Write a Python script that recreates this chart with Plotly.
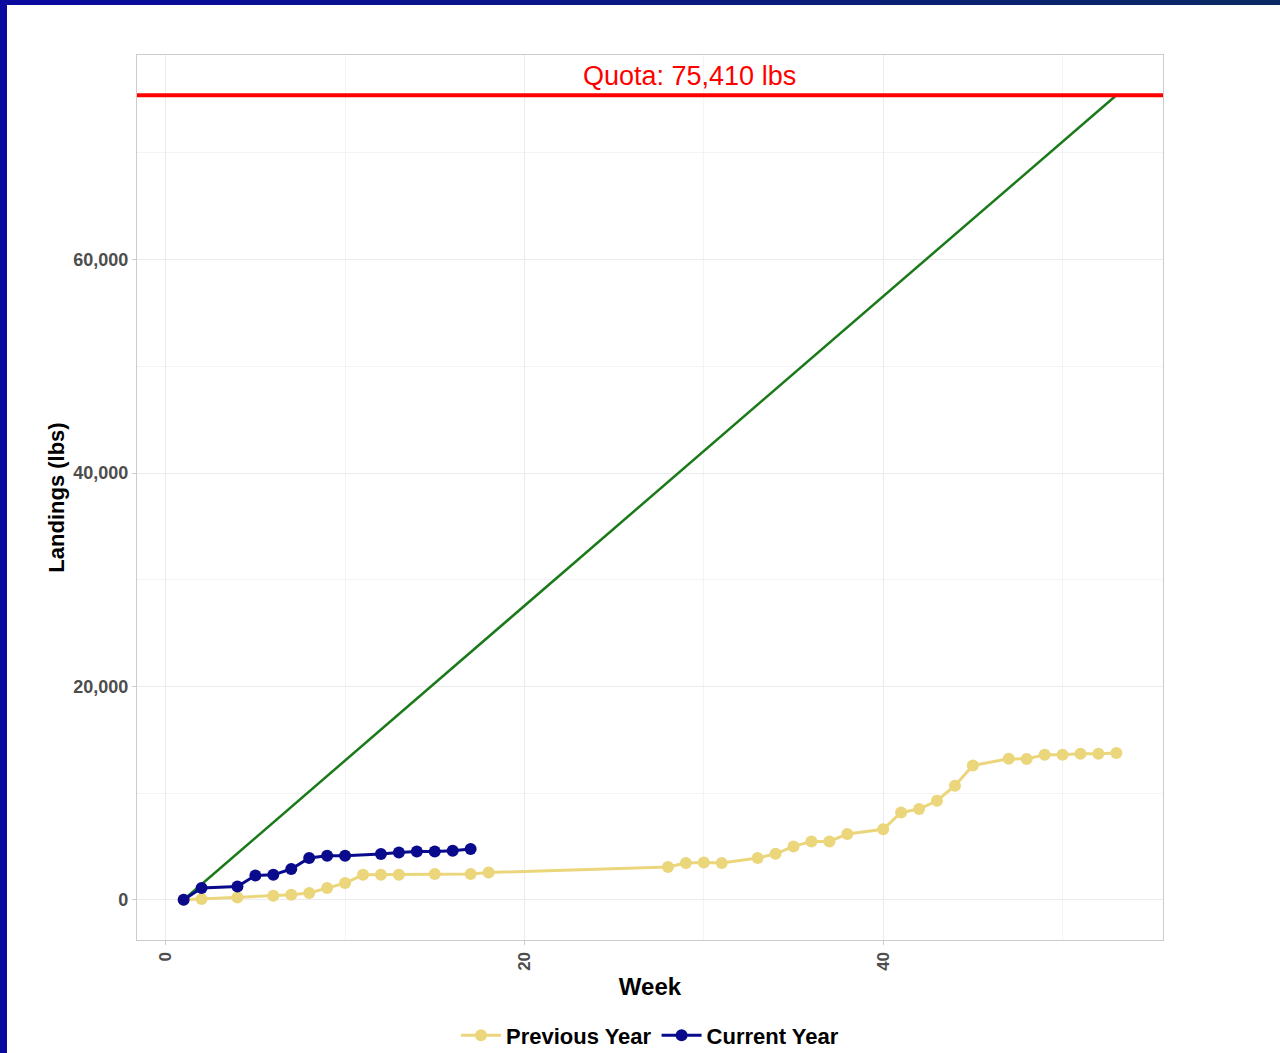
import plotly.graph_objects as go

# ---- data ----
prev_weeks = [1, 2, 4, 6, 7, 8, 9, 10, 11, 12, 13, 15, 17, 18,
              28, 29, 30, 31, 33, 34, 35, 36, 37, 38, 40,
              41, 42, 43, 44, 45, 47, 48, 49, 50, 51, 52, 53]
prev_landings = [0, 70, 220, 375, 470, 630, 1100, 1565, 2340, 2340, 2340, 2410, 2410, 2560,
                 3065, 3440, 3500, 3440, 3910, 4310, 5000, 5470, 5470, 6160, 6600,
                 8185, 8500, 9280, 10690, 12590, 13220, 13190, 13590, 13590, 13690, 13690, 13750]

cur_weeks = [1, 2, 4, 5, 6, 7, 8, 9, 10, 12, 13, 14, 15, 16, 17]
cur_landings = [0, 1097, 1250, 2280, 2340, 2880, 3910, 4125, 4125, 4280, 4430, 4530, 4530, 4590, 4750]

target_weeks = [1, 53]
target_landings = [0, 75410]

quota = 75410
quota_label = "Quota: 75,410 lbs"

x_ticks = [0, 20, 40]
y_ticks = [0, 20000, 40000, 60000]
y_ticklabels = ["0", "20,000", "40,000", "60,000"]

PREV_COLOR = "#ebd67c"
CUR_COLOR = "#0a0a8c"
FONT = "Liberation Sans, Arial, sans-serif"

fig = go.Figure()

fig.add_trace(go.Scatter(
    x=target_weeks, y=target_landings, mode="lines",
    line=dict(color="#1a7a1a", width=2.5), showlegend=False, hoverinfo="skip"))

fig.add_trace(go.Scatter(
    x=prev_weeks, y=prev_landings, mode="lines+markers", name="Previous Year",
    line=dict(color=PREV_COLOR, width=3), marker=dict(color=PREV_COLOR, size=12)))

fig.add_trace(go.Scatter(
    x=cur_weeks, y=cur_landings, mode="lines+markers", name="Current Year",
    line=dict(color=CUR_COLOR, width=3), marker=dict(color=CUR_COLOR, size=12)))

# quota line
fig.add_shape(type="line", xref="paper", yref="y", x0=0, x1=1, y0=quota, y1=quota,
              line=dict(color="#ff0000", width=4), layer="above")
fig.add_annotation(x=29.2, y=77250, xref="x", yref="y", text=quota_label, showarrow=False,
                   font=dict(family=FONT, size=27, color="#ff0000"),
                   yanchor="middle", xanchor="center")

# frame (dark blue slide border): left and top bars
L, T, W, H = 137, 55, 1026, 885
def px_x(p):
    return (p - L) / W
def px_y(p):
    return 1 + (T - p) / H

fig.add_shape(type="rect", xref="paper", yref="paper",
              x0=px_x(0), x1=px_x(7), y0=px_y(1053), y1=px_y(0),
              fillcolor="#0a0a9e", line=dict(width=0), layer="above")
n = 16
c0 = (10, 10, 158)
c1 = (10, 40, 100)
for i in range(n):
    t = i / (n - 1)
    col = "rgb(%d,%d,%d)" % tuple(round(c0[k] + (c1[k] - c0[k]) * t) for k in range(3))
    fig.add_shape(type="rect", xref="paper", yref="paper",
                  x0=px_x(1280 * i / n), x1=px_x(1280 * (i + 1) / n + 1),
                  y0=px_y(5), y1=px_y(0),
                  fillcolor=col, line=dict(width=0), layer="above")

axis_common = dict(
    showline=True, linecolor="#cccccc", linewidth=1.3, mirror=True,
    gridcolor="#ebebeb", gridwidth=1, zeroline=False,
    ticks="outside", ticklen=4, tickcolor="#cccccc",
    minor=dict(showgrid=True, gridcolor="#f4f4f4", gridwidth=1),
)

fig.update_xaxes(
    **axis_common,
    range=[-1.6, 55.6], tickvals=x_ticks, tickangle=-90,
    tickfont=dict(family=FONT, size=17, color="#4d4d4d", weight="bold"),
    title=dict(text="Week", font=dict(family=FONT, size=24, color="#000000", weight="bold"), standoff=8),
)
fig.update_xaxes(minor_tickvals=[10, 30, 50], minor_ticks="")
fig.update_yaxes(
    **axis_common,
    range=[-3770, 79180], tickvals=y_ticks, ticktext=y_ticklabels,
    tickfont=dict(family=FONT, size=18, color="#4d4d4d", weight="bold"),
    title=dict(text="Landings (lbs)", font=dict(family=FONT, size=22, color="#000000", weight="bold"),
               standoff=2),
)
fig.update_yaxes(minor_tickvals=[10000, 30000, 50000, 70000], minor_ticks="")

fig.update_layout(
    width=1280, height=1053,
    margin=dict(l=L, r=1280 - L - W, t=T, b=1053 - T - H, autoexpand=False),
    paper_bgcolor="white", plot_bgcolor="white",
    legend=dict(orientation="h", x=0.5, xanchor="center", y=-0.084, yanchor="top",
                font=dict(family=FONT, size=22, color="#000000", weight="bold"),
                itemwidth=40, traceorder="normal"),
)

fig.write_html("out.html", config={"displayModeBar": False},
               post_script="document.body.style.margin='0';")
